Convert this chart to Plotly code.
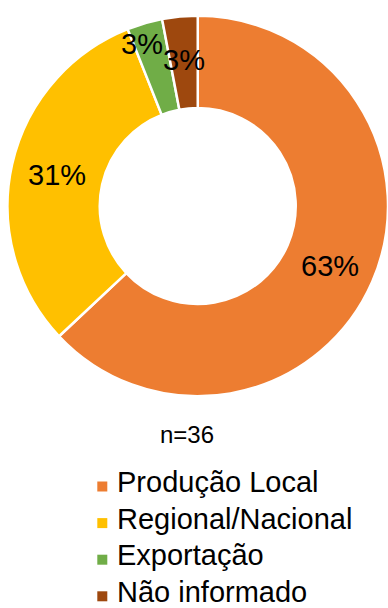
import math
import plotly.graph_objects as go

# Origin of the product (share of respondents)
labels = ["Produção Local", "Regional/Nacional", "Exportação", "Não informado"]
values = [63, 31, 3, 3]
colors = ["#ED7D31", "#FFC000", "#70AD47", "#9E480E"]
sample_note = "n=36"

# Percentage label placement: fraction of the outer radius and an angular nudge (deg)
label_radius = [0.765, 0.757, 0.90, 0.77]
label_nudge = [1.0, 0, -2.8, 0]

W, H = 388, 608
FONT = "Liberation Sans, Arial, sans-serif"

# Donut geometry in pixels (centre and outer radius)
cx_px, cy_px, r_px = 197.75, 206.0, 190.25
dom_x = [(cx_px - r_px) / W, min(1.0, (cx_px + r_px) / W)]
dom_y = [(H - cy_px - r_px) / H, (H - cy_px + r_px) / H]

fig = go.Figure(
    go.Pie(
        labels=labels,
        values=values,
        hole=0.515,
        sort=False,
        direction="clockwise",
        rotation=0,
        marker=dict(colors=colors, line=dict(color="white", width=2.5)),
        textinfo="none",
        hoverinfo="label+percent",
        domain=dict(x=dom_x, y=dom_y),
        showlegend=False,
    )
)

# Percentage labels placed at each slice's mid-angle
total = sum(values)
cum = 0.0
annotations = []
shapes = []
for v, rf, nd in zip(values, label_radius, label_nudge):
    mid = math.radians((cum + v / 2) / total * 360 + nd)
    cum += v
    x_px = cx_px + r_px * rf * math.sin(mid)
    y_px = cy_px - r_px * rf * math.cos(mid)
    annotations.append(
        dict(
            x=x_px / W, y=1 - y_px / H, xref="paper", yref="paper",
            text=f"{v / total * 100:.0f}%", showarrow=False,
            font=dict(family=FONT, size=29, color="#000000"),
            xanchor="center", yanchor="middle",
        )
    )

# Sample size note under the donut
annotations.append(
    dict(
        x=187 / W, y=1 - 434.5 / H, xref="paper", yref="paper",
        text=sample_note, showarrow=False,
        font=dict(family=FONT, size=24, color="#000000"),
        xanchor="center", yanchor="middle",
    )
)

# Legend: square swatch + label per category, stacked below the note
LEG_SWATCH_X, LEG_TEXT_X = 97.3, 116.0
LEG_BASE0, LEG_STEP, SWATCH = 491.5, 36.6, 10.0
LEG_FONT = 29
for i, (lab, col) in enumerate(zip(labels, colors)):
    base = LEG_BASE0 + i * LEG_STEP
    shapes.append(
        dict(
            type="rect", xref="paper", yref="paper",
            x0=LEG_SWATCH_X / W, x1=(LEG_SWATCH_X + SWATCH) / W,
            y0=1 - base / H, y1=1 - (base - SWATCH) / H,
            fillcolor=col, line=dict(width=0),
        )
    )
    annotations.append(
        dict(
            x=LEG_TEXT_X / W, y=1 - (base - 0.33 * LEG_FONT) / H,
            xref="paper", yref="paper",
            text=lab, showarrow=False, borderpad=0,
            font=dict(family=FONT, size=LEG_FONT, color="#000000"),
            xanchor="left", yanchor="middle",
        )
    )

fig.update_layout(
    width=W, height=H,
    margin=dict(l=0, r=0, t=0, b=0),
    paper_bgcolor="white", plot_bgcolor="white",
    annotations=annotations,
    shapes=shapes,
    showlegend=False,
)

fig.write_html("out.html")
